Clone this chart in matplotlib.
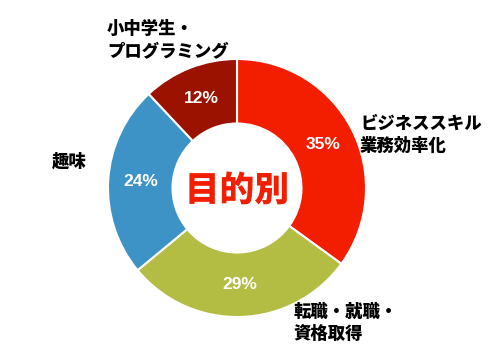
import matplotlib
matplotlib.use("Agg")
import matplotlib.pyplot as plt
import matplotlib.patheffects as pe

plt.rcParams['font.family'] = ['Noto Sans CJK JP', 'DejaVu Sans']

categories = ["ビジネススキル\n業務効率化", "転職・就職・\n資格取得", "趣味", "小中学生・\nプログラミング"]
values = [35, 29, 24, 12]
colors = ["#F31E00", "#B3BD44", "#3D93C6", "#9B1300"]
center_title = "目的別"

W, H = 500, 356
cx, cy, R = 237, 188, 129
fig = plt.figure(figsize=(W/100, H/100), dpi=100)
ax = fig.add_axes([0, 0, 1, 1])

wedges, texts, autotexts = ax.pie(
    values, colors=colors, startangle=90, counterclock=False,
    radius=1, wedgeprops=dict(width=0.5, edgecolor='white', linewidth=1.5),
    autopct='%d%%', pctdistance=0.75,
    textprops=dict(color='white', fontsize=12.5, fontweight='bold', family=['Liberation Sans', 'DejaVu Sans']))

ax.set_aspect('auto')
ax.set_xlim(-cx/R, (W-cx)/R)
ax.set_ylim(-(H-cy)/R, cy/R)
ax.axis('off')

def px(x, y):
    return (x-cx)/R, (cy-y)/R

label_pos = [(360, 135, 'left'), (294, 323, 'left'), (52, 162, 'left'), (107, 40, 'left')]
for lab, (x, y, ha) in zip(categories, label_pos):
    tx, ty = px(x, y)
    ax.text(tx, ty, lab, ha=ha, va='center', fontsize=12.5, fontweight='black',
            color='black', linespacing=1.3)

ax.text(0, -0.02, center_title, ha='center', va='center', fontsize=25, fontweight='black',
        color='#F21E00', path_effects=[pe.withStroke(linewidth=2, foreground='white')])

fig.savefig("out.png", dpi=100)
